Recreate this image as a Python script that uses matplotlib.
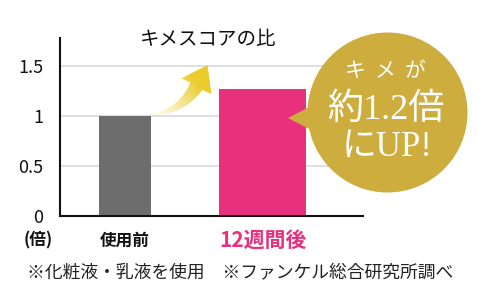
import numpy as np
import matplotlib
matplotlib.use("Agg")
import matplotlib.pyplot as plt
from matplotlib.patches import Circle, Polygon

plt.rcParams['font.family'] = ['Noto Sans CJK JP', 'DejaVu Sans']

# ---- data ----
categories = ['使用前', '12週間後']
values = [1.0, 1.27]
ytick_values = [0, 0.5, 1, 1.5]
ytick_labels = ['0', '0.5', '1', '1.5']
title = 'キメスコアの比'
unit_label = '(倍)'
badge_lines = ['キメが', '約1.2倍', 'にUP!']
footnote = '※化粧液・乳液を使用　※ファンケル総合研究所調べ'

# ---- style ----
bar_colors = ['#6d6d6d', '#e9307c']
label_colors = ['#111111', '#e9307c']
label_sizes = [12, 15]
bar_widths = [0.378, 0.633]
gold = '#cdad3e'
arrow_rgb = np.array([236, 204, 44]) / 255.0

W, H = 479, 302
fig = plt.figure(figsize=(W / 100, H / 100), dpi=100)
ax = fig.add_axes([60 / W, 1 - 216 / H, 303 / W, 178 / H])

x = np.arange(len(categories))
ax.bar(x, values, width=bar_widths, color=bar_colors, zorder=2)
ax.set_xlim(-0.473, 1.731)
ax.set_ylim(0, 1.78)
ax.set_yticks(ytick_values)
ax.set_yticklabels(ytick_labels)
ax.set_xticks([])
ax.tick_params(axis='y', length=0, pad=12, labelsize=13, labelcolor='#111111')
for s in ['top', 'right']:
    ax.spines[s].set_visible(False)
for s in ['left', 'bottom']:
    ax.spines[s].set_linewidth(1.5)
    ax.spines[s].set_color('#111111')
ax.grid(axis='y', color='#d6d6d6', linewidth=1.1, zorder=0)
ax.set_axisbelow(True)

for xi, cat, c, fs in zip(x, categories, label_colors, label_sizes):
    ax.text(xi, -0.245, cat, ha='center', va='center', color=c, fontsize=fs,
            fontweight='bold', clip_on=False)

# ---- overlay in pixel coordinates ----
ov = fig.add_axes([0, 0, 1, 1], zorder=5)
ov.set_xlim(0, W)
ov.set_ylim(H, 0)
ov.axis('off')


def to_px(xd, yd):
    disp = ax.transData.transform((xd, yd))
    return disp[0], H - disp[1]


ov.text(208, 40, title, ha='center', va='center', fontsize=14, color='#111111')
ov.text(38, 240, unit_label, ha='center', va='center', fontsize=12,
        fontweight='bold', color='#111111')
ov.text(27, 273, footnote, ha='left', va='center', fontsize=12.8, color='#222222')

# curved gradient arrow from bar 1 top to above bar 2
tx, ty = to_px(x[0] + bar_widths[0] / 2 - 0.01, values[0])
tipx, tipy = to_px(0.6, 1.51)
P0 = np.array([tx, ty - 1.5])
tip = np.array([tipx, tipy])
hdir = np.array([0.46, -0.88])
hdir /= np.linalg.norm(hdir)
base_mid = tip - hdir * 24
P2 = base_mid
P1 = P2 - hdir * 30 + np.array([-2, 0])
t = np.linspace(0, 1, 40)
B = ((1 - t) ** 2)[:, None] * P0 + (2 * (1 - t) * t)[:, None] * P1 + (t ** 2)[:, None] * P2
dB = (2 * (1 - t))[:, None] * (P1 - P0) + (2 * t)[:, None] * (P2 - P1)
dB /= np.linalg.norm(dB, axis=1)[:, None]
nrm = np.column_stack([-dB[:, 1], dB[:, 0]])
wid = 0.6 + 6.4 * t ** 1.1
left = B + nrm * wid[:, None]
right = B - nrm * wid[:, None]
perp = np.array([-hdir[1], hdir[0]])
hc1 = base_mid + perp * 17
hc2 = base_mid - perp * 17
pts = np.vstack([right, hc2[None], tip[None], hc1[None], left[::-1]])
arrow_poly = Polygon(pts, closed=True, facecolor='none', edgecolor='none')
ov.add_patch(arrow_poly)

x0, x1 = pts[:, 0].min() - 2, pts[:, 0].max() + 2
y0, y1 = pts[:, 1].min() - 2, pts[:, 1].max() + 2
nx, ny = 200, 200
gx, gy = np.meshgrid(np.linspace(x0, x1, nx), np.linspace(y0, y1, ny))
u = (tip - P0) / np.linalg.norm(tip - P0)
proj = (gx - P0[0]) * u[0] + (gy - P0[1]) * u[1]
a = np.clip(proj / np.linalg.norm(tip - P0) * 1.35, 0, 1) ** 1.3
img = np.zeros((ny, nx, 4))
img[..., :3] = arrow_rgb
img[..., 3] = 0.08 + 0.92 * a
im = ov.imshow(img, extent=(x0, x1, y1, y0), origin='upper', aspect='auto',
               interpolation='bilinear', zorder=3)
im.set_clip_path(arrow_poly)
ov.set_xlim(0, W)
ov.set_ylim(H, 0)

# badge
cx, cy, r = 387.5, 112.5, 80
ov.add_patch(Circle((cx, cy), r, facecolor=gold, edgecolor='none', zorder=4))
ov.add_patch(Polygon([(288, 118), (313, 105), (313, 131)], closed=True,
                     facecolor=gold, edgecolor='none', zorder=4))
serif = ['Liberation Serif', 'Noto Sans CJK JP']
# first line with wide letter spacing
n0 = len(badge_lines[0])
for i, ch in enumerate(badge_lines[0]):
    ov.text(cx - 2 + (i - (n0 - 1) / 2) * 30, 73, ch, ha='center', va='center',
            fontsize=15, color='white', family=serif, zorder=6)
ov.text(cx - 2, 110, badge_lines[1], ha='center', va='center', fontsize=26,
        color='white', family=serif, zorder=6)
ov.text(cx, 147, badge_lines[2], ha='center', va='center', fontsize=25,
        color='white', family=serif, zorder=6)

fig.savefig('out.png', dpi=100)
